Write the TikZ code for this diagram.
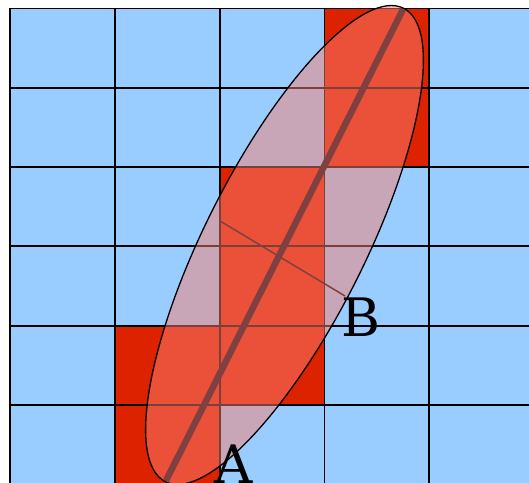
\documentclass[tikz,border=0pt]{standalone}
\usepackage{fontspec}
\setmainfont{DejaVu Serif}
\begin{document}
\definecolor{cellblue}{RGB}{153,204,255}
\definecolor{cellred}{RGB}{221,34,0}
\definecolor{ovl}{RGB}{250,128,114}
\definecolor{axisbrown}{RGB}{128,64,64}
\begin{tikzpicture}[x=1pt,y=1pt,
  gridline/.style={line width=1.8pt,black},
  bluecell/.style={fill=cellblue},
  redcell/.style={fill=cellred},
  blob/.style={fill=ovl,fill opacity=0.5,draw=black,line width=1.3pt},
  mainaxis/.style={line width=6.5pt,axisbrown},
  crossline/.style={line width=1.5pt,axisbrown},
  letter/.style={inner sep=0pt,font=\fontsize{53}{58}\selectfont}]
\useasboundingbox (0,0) rectangle (529,482);
\clip (0,0) rectangle (529,482);
% background cells
\fill[bluecell] (10,-10) rectangle (540,473.5);
% red cells: (col,row) with row counted from top
\foreach \c/\r in {3/0,3/1,2/2,2/3,2/4,1/4,1/5}{
  \fill[redcell] ({10+104.8*\c},{473.5-79.3*\r}) rectangle ({10+104.8*(\c+1)},{473.5-79.3*(\r+1)});
}
% grid lines
\foreach \c in {0,...,5}{
  \draw[gridline] ({10+104.8*\c},-10) -- ({10+104.8*\c},473.5);
}
\foreach \r in {0,...,5}{
  \draw[gridline] (10,{473.5-79.3*\r}) -- (540,{473.5-79.3*\r});
}
% ellipse and its major axis
\begin{scope}[shift={(284.5,237)},rotate=63.3]
  \draw[blob] (0,0) ellipse (265 and 80);
  \coordinate (top) at (264,0);
  \coordinate (bot) at (-264,0);
\end{scope}
\draw[mainaxis] (bot) -- (top);
% thin cross line
\coordinate (L) at (220,261);
\coordinate (B) at (345,186);
\draw[crossline] (L) -- (B);
% labels
\node[letter,anchor=base west] (labB) at (341,146) {B};
\node[letter,anchor=base] (labA) at (234,-1) {A};
\end{tikzpicture}
\end{document}
